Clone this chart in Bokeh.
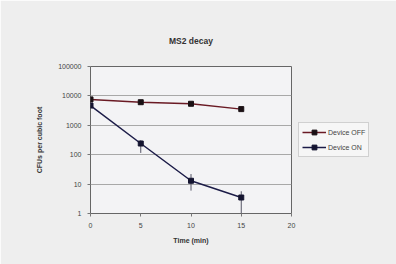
from bokeh.plotting import figure
from bokeh.models import (Range1d, FixedTicker, Legend, LegendItem, Whisker,
                          ColumnDataSource)
from bokeh.embed import file_html
from bokeh.resources import INLINE

time = [0, 5, 10, 15]
device_off = [7600, 6100, 5400, 3550]
device_on = [4700, 240, 13, 3.5]
on_lower = [4700, 115, 6, 1]
on_upper = [4700, 310, 22, 5.7]
x_ticks = [0, 5, 10, 15, 20]
y_ticks = [1, 10, 100, 1000, 10000, 100000]
y_tick_labels = ["1", "10", "100", "1000", "10000", "100000"]

FONT = "Liberation Sans"

p = figure(width=396, height=264, output_backend="svg", toolbar_location=None,
           y_axis_type="log", x_range=Range1d(0, 20), y_range=Range1d(1, 100000),
           frame_width=201, frame_height=147)
p.min_border_left = 90
p.min_border_right = 105
p.min_border_top = 66
p.min_border_bottom = 51
p.border_fill_color = "#eeeeee"
p.background_fill_color = "#f3f3f5"
p.outline_line_color = "#666666"
p.outline_line_width = 1

p.title.text = "MS2 decay"
p.title.text_font = FONT
p.title.text_font_size = "8.5px"
p.title.text_font_style = "bold"
p.title.text_color = "#333333"
p.title.align = "center"
p.title.offset = 13
p.title.standoff = 42

p.xgrid.grid_line_color = None
p.ygrid.grid_line_color = "#a8a8a8"
p.ygrid.grid_line_width = 1
p.ygrid.ticker = FixedTicker(ticks=y_ticks)
p.yaxis.ticker = FixedTicker(ticks=y_ticks)
p.yaxis.major_label_overrides = {t: l for t, l in zip(y_ticks, y_tick_labels)}
p.xaxis.ticker = FixedTicker(ticks=x_ticks)
for ax in (p.xaxis, p.yaxis):
    ax.axis_line_color = None
    ax.major_tick_line_color = "#777777"
    ax.major_tick_out = 3
    ax.major_tick_in = 0
    ax.minor_tick_line_color = None
    ax.major_label_text_font = FONT
    ax.major_label_text_font_size = "7px"
    ax.major_label_text_color = "#444444"
    ax.axis_label_text_font = FONT
    ax.axis_label_text_font_size = "7px"
    ax.axis_label_text_font_style = "bold"
    ax.axis_label_text_color = "#333333"
p.xaxis.axis_label = "Time (min)"
p.yaxis.axis_label = "CFUs per cubic foot"
p.xaxis.major_label_standoff = 6
p.yaxis.major_label_standoff = 6
p.xaxis.axis_label_standoff = 6
p.yaxis.axis_label_standoff = 12

src_on = ColumnDataSource(dict(x=time, y=device_on, lo=on_lower, hi=on_upper))
p.add_layout(Whisker(source=src_on, base="x", lower="lo", upper="hi",
                     line_color="#555566", line_width=1,
                     upper_head=None, lower_head=None))

r_off_l = p.line(time, device_off, line_color="#6a1a24", line_width=1.5)
r_off_m = p.scatter(time, device_off, marker="square", size=5,
                    fill_color="#1a1014", line_color="#1a1014")
r_on_l = p.line(time, device_on, line_color="#1c1c48", line_width=1.5)
r_on_m = p.scatter(time, device_on, marker="square", size=5,
                   fill_color="#141430", line_color="#141430")

legend = Legend(items=[LegendItem(label="Device OFF", renderers=[r_off_l, r_off_m]),
                       LegendItem(label="Device ON", renderers=[r_on_l, r_on_m])],
                location=(7, 56))
legend.label_text_font = FONT
legend.label_text_font_size = "7px"
legend.label_text_color = "#444444"
legend.border_line_color = "#aaaaaa"
legend.background_fill_color = "#f6f6f6"
legend.glyph_width = 24
legend.glyph_height = 12
legend.label_height = 12
legend.spacing = 3
legend.padding = 3
legend.margin = 0
legend.label_standoff = 2
p.add_layout(legend, "right")

open("out.html", "w").write(file_html(p, INLINE))
